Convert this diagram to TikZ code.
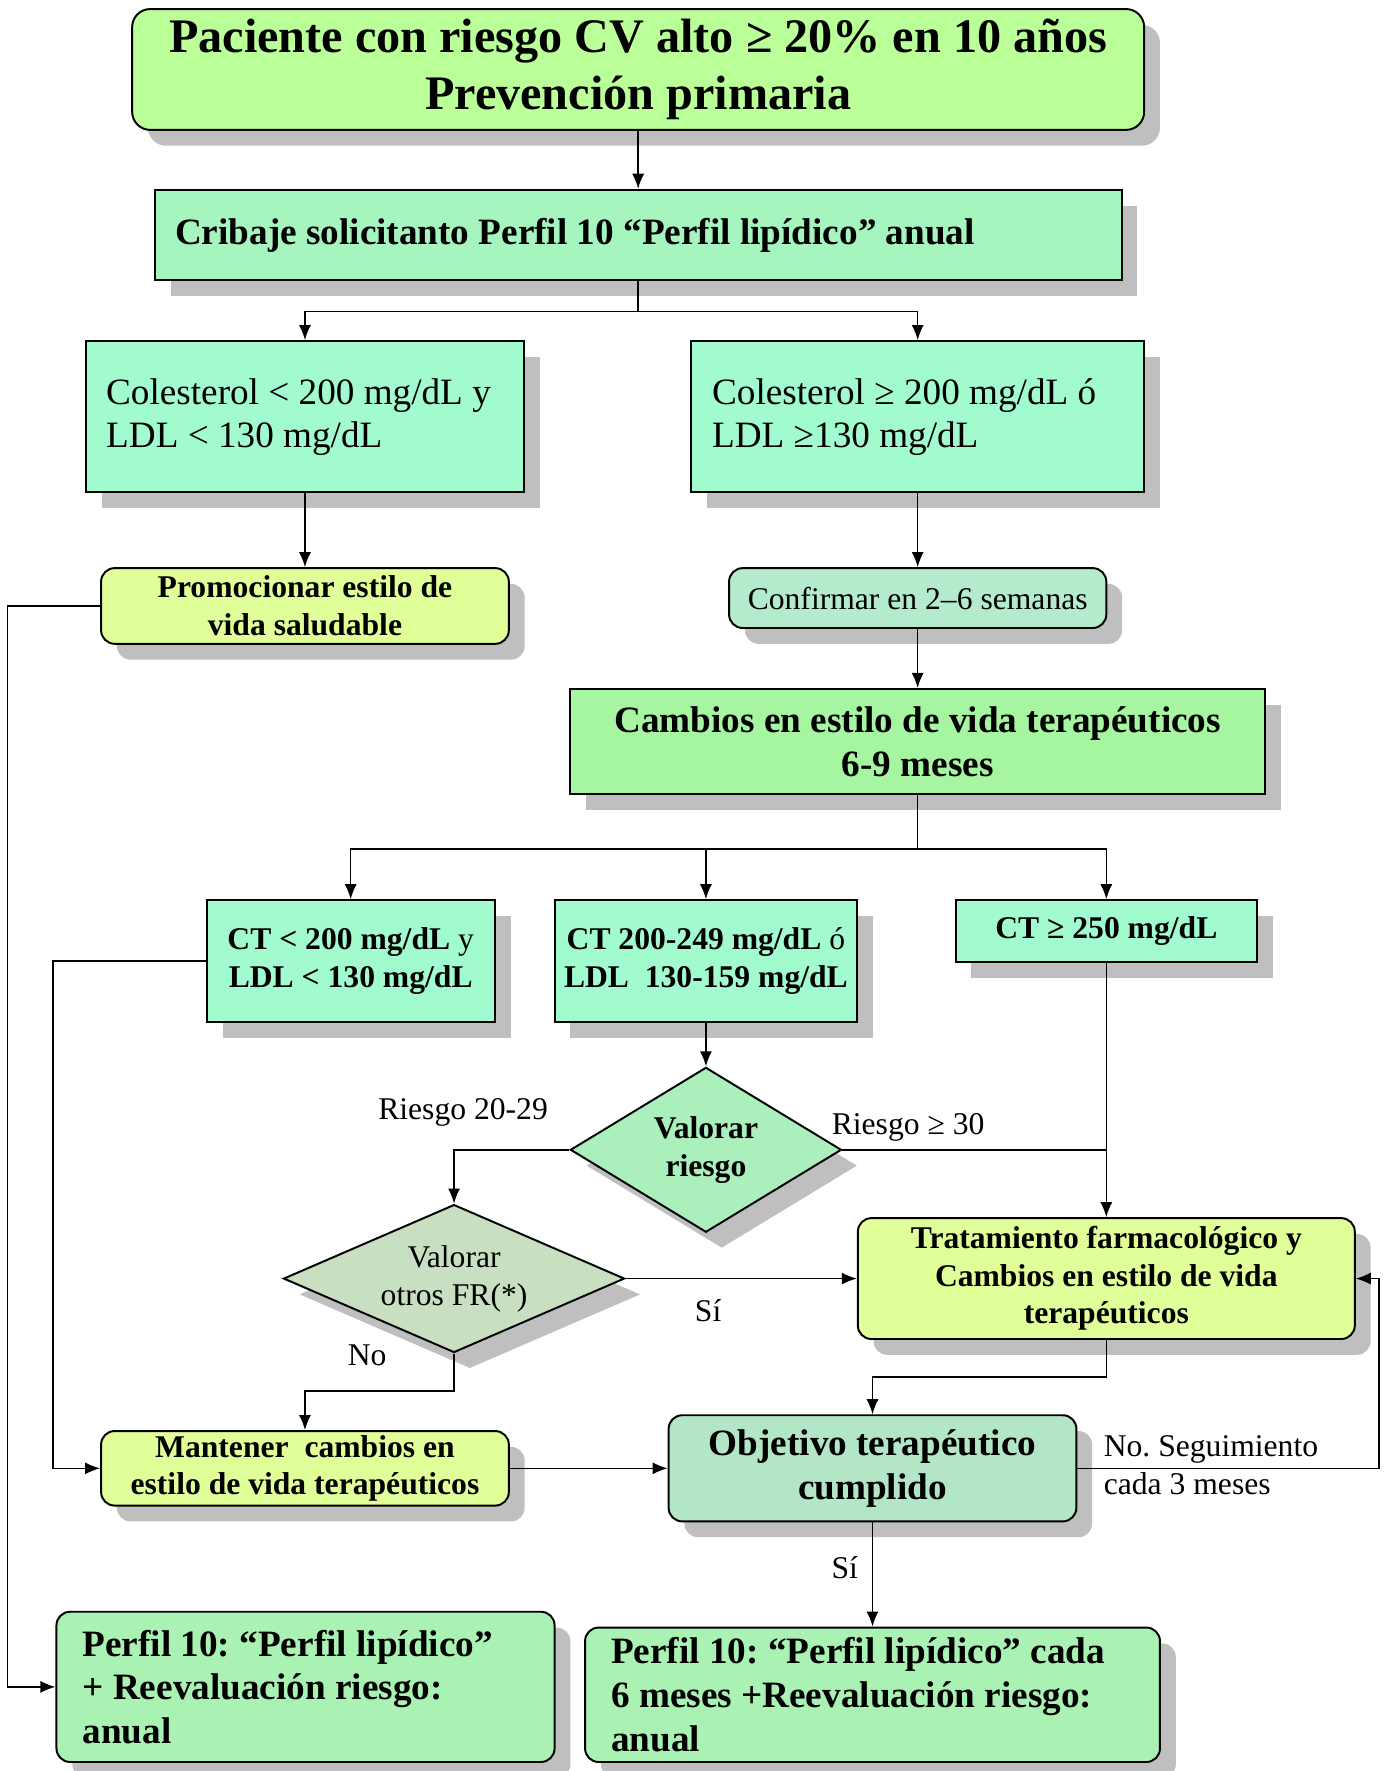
\documentclass[tikz,border=0pt]{standalone}
\usepackage{fontspec}
\setmainfont{Liberation Serif}
\frenchspacing
\usetikzlibrary{shapes.geometric,shadows,arrows.meta}

\definecolor{titlegreen}{HTML}{BBFF99}
\definecolor{cribgreen}{HTML}{A6F5BE}
\definecolor{mint}{HTML}{A2FACF}
\definecolor{lime}{HTML}{E0FF99}
\definecolor{confgreen}{HTML}{B3EBCC}
\definecolor{cambgreen}{HTML}{A6F5A0}
\definecolor{diagreen}{HTML}{ABEFBD}
\definecolor{diagrey}{HTML}{C8DFC2}
\definecolor{objgreen}{HTML}{B3E6C7}
\definecolor{perfgreen}{HTML}{AAF2B4}

\begin{document}
\begin{tikzpicture}[x=0.75pt, y=-0.75pt,
                    every node/.style={align=flush center, inner sep=0pt,
                                       font=\fontsize{21}{25}\selectfont},
                    box/.style={draw, line width=1.3pt,
                                drop shadow={shadow xshift=10.5pt, shadow yshift=-10.5pt,
                                             opacity=1, fill=gray!50}},
                    rbox/.style={box, rounded corners=9pt},
                    decide/.style={box, diamond},
                    big/.style={font=\fontsize{24.7}{29}\selectfont\bfseries},
                    small/.style={font=\fontsize{21}{25}\selectfont\bfseries},
                    flow/.style={line width=1pt, -{Latex[length=10pt, width=8pt]}},
                    link/.style={line width=1pt}]
  \useasboundingbox (0,0) rectangle (1225,1568);

  % boxes
  \node[rbox, rounded corners=12pt, fill=titlegreen, minimum width=672pt, minimum height=80.25pt,
        font=\fontsize{32}{37.5}\selectfont\bfseries] (top) at (565,61.5)
        {Paciente con riesgo CV alto ≥ 20\% en 10 años\\Prevención primaria};
  \node[box, big, fill=cribgreen, minimum width=642pt, minimum height=60pt,
        text width=615pt, align=flush left] (crib) at (565,208)
        {Cribaje solicitanto Perfil 10 “Perfil lipídico” anual};

  \node[box, fill=mint, minimum width=291pt, minimum height=100.5pt, text width=264pt,
        align=flush left, font=\fontsize{24.7}{28.5}\selectfont] (colA) at (270,369)
        {Colesterol < 200 mg/dL y\\LDL < 130 mg/dL};
  \node[box, fill=mint, minimum width=300.75pt, minimum height=100.5pt, text width=273pt,
        align=flush left, font=\fontsize{24.7}{28.5}\selectfont] (colB) at (812.5,369)
        {Colesterol ≥ 200 mg/dL ó\\LDL ≥130 mg/dL};

  \node[rbox, small, fill=lime, minimum width=270.75pt, minimum height=50.25pt] (promo) at (270,536.5)
        {Promocionar estilo de\\vida saludable};
  \node[rbox, fill=confgreen, minimum width=250.5pt, minimum height=39.75pt] (conf) at (812.5,529.5)
        {Confirmar en 2–6 semanas};
  \node[box, big, fill=cambgreen, minimum width=461.25pt, minimum height=69.75pt] (camb) at (812.5,656.5)
        {Cambios en estilo de vida terapéuticos\\6-9 meses};

  \node[box, small, fill=mint, minimum width=191.25pt, minimum height=81pt] (ct1) at (310.5,851)
        {CT < 200 mg/dL {\mdseries y}\\LDL < 130 mg/dL};
  \node[box, small, fill=mint, minimum width=201pt, minimum height=81pt] (ct2) at (625,851)
        {CT 200-249 mg/dL {\mdseries ó}\\LDL\ \ 130-159 mg/dL};
  \node[box, small, fill=mint, minimum width=200.25pt, minimum height=41.25pt] (ct3) at (979.5,824.5)
        {CT ≥ 250 mg/dL};

  \node[decide, small, fill=diagreen, minimum width=180pt, minimum height=109.5pt,
        shape aspect=1.64] (dia1) at (625,1018) {Valorar\\riesgo};
  \node[decide, fill=diagrey, minimum width=226.5pt, minimum height=98.25pt,
        shape aspect=2.3] (dia2) at (402,1132) {Valorar\\otros FR(*)};

  \node[rbox, small, fill=lime, minimum width=330pt, minimum height=80.25pt] (trat) at (979.5,1132)
        {Tratamiento farmacológico y\\Cambios en estilo de vida\\terapéuticos};
  \node[rbox, small, fill=lime, minimum width=270.75pt, minimum height=49.5pt] (mant) at (270,1300)
        {Mantener\ \ cambios en\\estilo de vida terapéuticos};
  \node[rbox, big, fill=objgreen, minimum width=270.75pt, minimum height=70.5pt] (obj) at (772.5,1300)
        {Objetivo terapéutico\\cumplido};

  \node[rbox, big, fill=perfgreen, minimum width=330.75pt, minimum height=99.75pt,
        text width=296pt, align=flush left] (perf1) at (270.5,1493.5)
        {Perfil 10: “Perfil lipídico”\\+ Reevaluación riesgo:\\anual};
  \node[rbox, big, fill=perfgreen, minimum width=381.75pt, minimum height=89.25pt,
        text width=347pt, align=flush left] (perf2) at (772.5,1500.5)
        {Perfil 10: “Perfil lipídico” cada\\6 meses +Reevaluación riesgo:\\anual};

  % labels
  \node (r20) at (410,985) {Riesgo 20-29};
  \node (r30) at (804,998) {Riesgo ≥ 30};
  \node (si1) at (627,1160) {Sí};
  \node (no1) at (325,1200) {No};
  \node[anchor=west, align=flush left] (seg) at (977,1297.5) {No. Seguimiento\\cada 3 meses};
  \node (si2) at (748,1388) {Sí};

  % connectors
  \foreach \i/\j in {top/crib, colA/promo, colB/conf, conf/camb, ct2/dia1, obj/perf2} {
          \draw[flow] (\i.south) -- (\j.north);
      }
  \foreach \j in {colA, colB} {
          \draw[flow] (crib.south) -- ++(0,27) -| (\j.north);
      }
  \foreach \j in {ct1, ct2, ct3} {
          \draw[flow] (camb.south) -- ++(0,48) -| (\j.north);
      }
  \draw[flow] (dia1.west) -| (dia2.north);
  \draw[link] (dia1.east) -- (dia1.east -| ct3.south);
  \draw[flow] (ct3.south) -- (trat.north);
  \draw[flow] (dia2.east) -- (trat.west);
  \draw[flow] (dia2.south) -- ++(0,33) -| (mant.north);
  \draw[flow] (trat.south) -- ++(0,33) -| (obj.north);
  \draw[flow] (mant.east) -- (obj.west);
  \draw[flow] (obj.east) -- ++(267,0) |- (trat.east);
  \draw[flow] (ct1.west) -- ++(-135,0) |- (mant.west);
  \draw[flow] (promo.west) -- ++(-82,0) |- (perf1.west);
\end{tikzpicture}
\end{document}
